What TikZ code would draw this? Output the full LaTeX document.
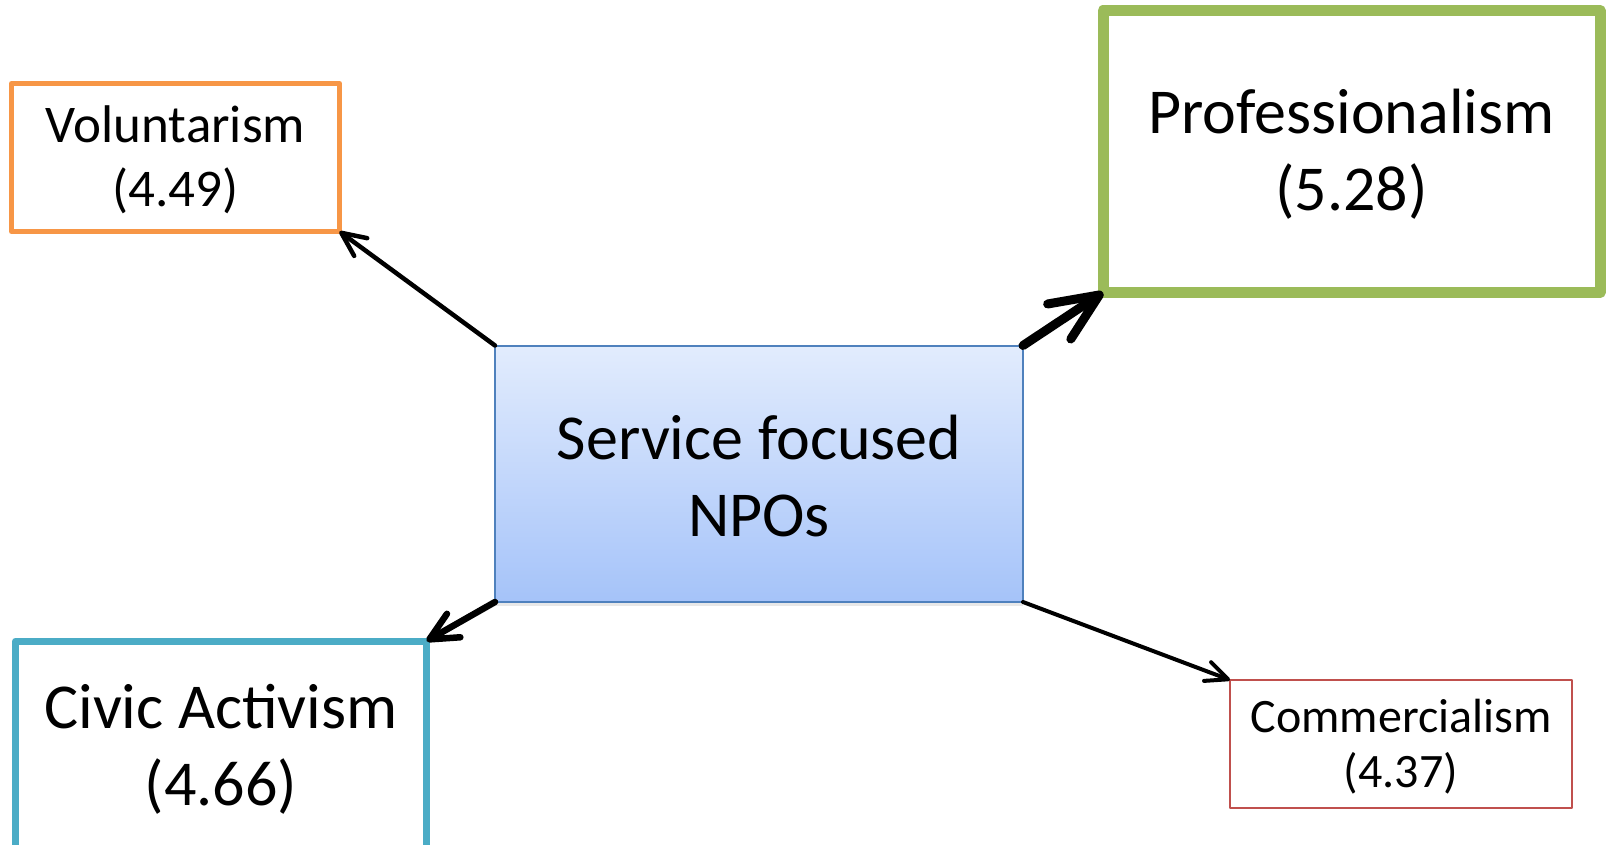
\documentclass[tikz,border=0pt]{standalone}
\usepackage{fontspec}
\setmainfont{Carlito}
\usetikzlibrary{arrows.meta,shadows}
\definecolor{volc}{HTML}{F79646}
\definecolor{profc}{HTML}{9BBB59}
\definecolor{civc}{HTML}{4BACC6}
\definecolor{comc}{HTML}{C0504D}
\definecolor{svcb}{HTML}{4F81BD}
\definecolor{svct}{HTML}{E2ECFD}
\definecolor{svcbot}{HTML}{A5C3F9}
\newcommand{\cst}{\rule[-0.04em]{0pt}{0.83em}}
\tikzset{
  catbox/.style={draw, rectangle, inner sep=0pt, outer sep=0pt, align=center, line join=round},
  conn/.style={draw=black, line cap=round, line join=round},
}
\begin{document}
\begin{tikzpicture}[x=1pt,y=-1pt]
\useasboundingbox (0,0) rectangle (1606,845);
\clip (0,0) rectangle (1606,845);
\fill[white] (0,0) rectangle (1606,845);
\node[catbox, draw=svcb, line width=2pt, top color=svct, bottom color=svcbot,
      minimum width=528pt, minimum height=256.5pt, font=\fontsize{64}{77}\selectfont,
      drop shadow={opacity=0.18, shadow xshift=0pt, shadow yshift=-4pt}]
      (svc) at (759,473.75) {\cst Service focused\\\cst NPOs};
\node[catbox, draw=volc, fill=white, line width=5pt, minimum width=328pt, minimum height=148pt,
      font=\fontsize{53}{64}\selectfont] (vol) at (175.5,157.5) {\cst Voluntarism\\\cst (4.49)};
\node[catbox, draw=profc, fill=white, line width=11pt, minimum width=497pt, minimum height=282pt,
      font=\fontsize{64}{77}\selectfont] (prof) at (1351.5,151.5) {\cst Professionalism\\\cst (5.28)};
\node[catbox, draw=civc, fill=white, line width=7pt, minimum width=411pt, minimum height=211pt,
      font=\fontsize{64}{77}\selectfont] (civ) at (221,746.5) {\cst Civic Activism\\\cst (4.66)};
\node[catbox, draw=comc, fill=white, line width=2.5pt, minimum width=342pt, minimum height=128pt,
      font=\fontsize{48}{55}\selectfont] (com) at (1401,744) {\cst Commercialism\\\cst (4.37)};
\draw[conn, line width=4.5pt, -{Straight Barb[length=24pt,width=22pt,round]}] (svc.north west) -- (vol.south east);
\draw[conn, line width=9pt, -{Straight Barb[length=48pt,width=42pt,round]}] (svc.north east) -- (prof.south west);
\draw[conn, line width=6.5pt, -{Straight Barb[length=28pt,width=27pt,round]}] (svc.south west) -- (civ.north east);
\draw[conn, line width=4pt, -{Straight Barb[length=22pt,width=20pt,round]}] (svc.south east) -- (com.north west);
\end{tikzpicture}
\end{document}
